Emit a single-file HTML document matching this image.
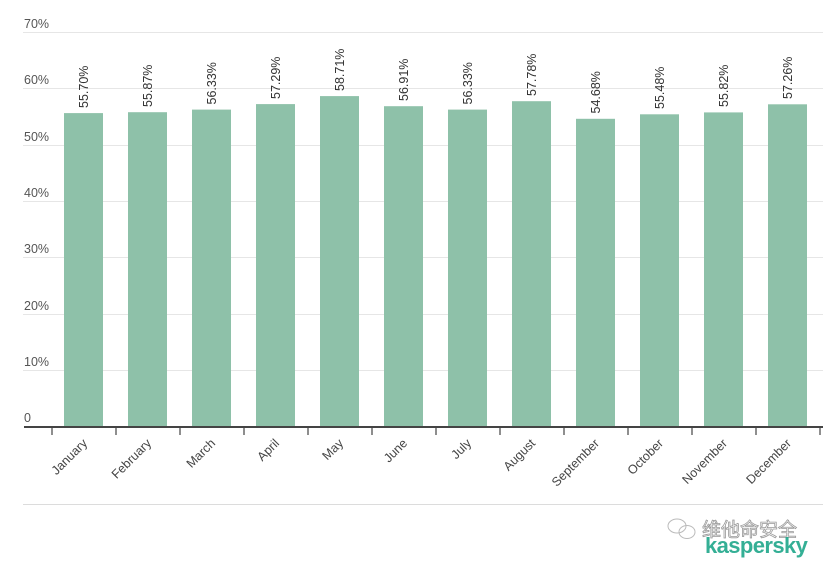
<!DOCTYPE html>
<html><head><meta charset="utf-8"><style>
html,body{margin:0;padding:0;background:#fff;}
svg{display:block;font-family:"Liberation Sans","Noto Sans CJK SC",sans-serif;}
</style></head><body>
<svg width="823" height="565" viewBox="0 0 823 565" xmlns="http://www.w3.org/2000/svg">
<rect width="823" height="565" fill="#fff"/>
<g stroke="#e6e6e6" stroke-width="1">
<line x1="23" y1="32.5" x2="823" y2="32.5"/>
<line x1="23" y1="88.5" x2="823" y2="88.5"/>
<line x1="23" y1="145.5" x2="823" y2="145.5"/>
<line x1="23" y1="201.5" x2="823" y2="201.5"/>
<line x1="23" y1="257.5" x2="823" y2="257.5"/>
<line x1="23" y1="314.5" x2="823" y2="314.5"/>
<line x1="23" y1="370.5" x2="823" y2="370.5"/>
<line x1="23" y1="504.5" x2="823" y2="504.5" stroke="#dcdcdc"/>
</g>
<g fill="#555" font-size="12.5">
<text x="24" y="28">70%</text>
<text x="24" y="84">60%</text>
<text x="24" y="141">50%</text>
<text x="24" y="197">40%</text>
<text x="24" y="253">30%</text>
<text x="24" y="310">20%</text>
<text x="24" y="366">10%</text>
<text x="24" y="422">0</text>
</g>
<g fill="#8ec1a9">
<rect x="64" y="113.1" width="39" height="313.9"/>
<rect x="128" y="112.2" width="39" height="314.8"/>
<rect x="192" y="109.6" width="39" height="317.4"/>
<rect x="256" y="104.1" width="39" height="322.9"/>
<rect x="320" y="96.1" width="39" height="330.9"/>
<rect x="384" y="106.2" width="39" height="320.8"/>
<rect x="448" y="109.6" width="39" height="317.4"/>
<rect x="512" y="101.2" width="39" height="325.8"/>
<rect x="576" y="118.8" width="39" height="308.2"/>
<rect x="640" y="114.3" width="39" height="312.7"/>
<rect x="704" y="112.4" width="39" height="314.6"/>
<rect x="768" y="104.3" width="39" height="322.7"/>
</g>
<line x1="24" y1="427" x2="823" y2="427" stroke="#444" stroke-width="2"/>
<g stroke="#444" stroke-width="1.2">
<line x1="52" y1="427" x2="52" y2="435"/>
<line x1="116" y1="427" x2="116" y2="435"/>
<line x1="180" y1="427" x2="180" y2="435"/>
<line x1="244" y1="427" x2="244" y2="435"/>
<line x1="308" y1="427" x2="308" y2="435"/>
<line x1="372" y1="427" x2="372" y2="435"/>
<line x1="436" y1="427" x2="436" y2="435"/>
<line x1="500" y1="427" x2="500" y2="435"/>
<line x1="564" y1="427" x2="564" y2="435"/>
<line x1="628" y1="427" x2="628" y2="435"/>
<line x1="692" y1="427" x2="692" y2="435"/>
<line x1="756" y1="427" x2="756" y2="435"/>
<line x1="820" y1="427" x2="820" y2="435"/>
</g>
<g fill="#333" font-size="12.5">
<text transform="translate(88,108) rotate(-90)">55.70%</text>
<text transform="translate(152,107) rotate(-90)">55.87%</text>
<text transform="translate(216,104.5) rotate(-90)">56.33%</text>
<text transform="translate(280,99) rotate(-90)">57.29%</text>
<text transform="translate(344,91) rotate(-90)">58.71%</text>
<text transform="translate(408,101) rotate(-90)">56.91%</text>
<text transform="translate(472,104.5) rotate(-90)">56.33%</text>
<text transform="translate(536,96) rotate(-90)">57.78%</text>
<text transform="translate(600,113.5) rotate(-90)">54.68%</text>
<text transform="translate(664,109) rotate(-90)">55.48%</text>
<text transform="translate(728,107) rotate(-90)">55.82%</text>
<text transform="translate(792,99) rotate(-90)">57.26%</text>
</g>
<g fill="#444" font-size="12.5" text-anchor="end">
<text transform="translate(88,444) rotate(-45)">January</text>
<text transform="translate(152,444) rotate(-45)">February</text>
<text transform="translate(216,444) rotate(-45)">March</text>
<text transform="translate(280,444) rotate(-45)">April</text>
<text transform="translate(344,444) rotate(-45)">May</text>
<text transform="translate(408,444) rotate(-45)">June</text>
<text transform="translate(472,444) rotate(-45)">July</text>
<text transform="translate(536,444) rotate(-45)">August</text>
<text transform="translate(600,444) rotate(-45)">September</text>
<text transform="translate(664,444) rotate(-45)">October</text>
<text transform="translate(728,444) rotate(-45)">November</text>
<text transform="translate(792,444) rotate(-45)">December</text>
</g>
<g fill="none" stroke="#bbb" stroke-width="1">
<ellipse cx="677" cy="526" rx="9" ry="7"/>
<ellipse cx="687" cy="532" rx="8" ry="6.5"/>
</g>
<text x="702" y="536" font-size="19" fill="#fff" stroke="#999" stroke-width="0.8" font-family="'Noto Sans CJK SC',sans-serif">维他命安全</text>
<text x="705" y="553" font-size="22" font-weight="bold" fill="#2aab90" letter-spacing="-0.6" opacity="0.95">kaspersky</text>
</svg>
</body></html>
